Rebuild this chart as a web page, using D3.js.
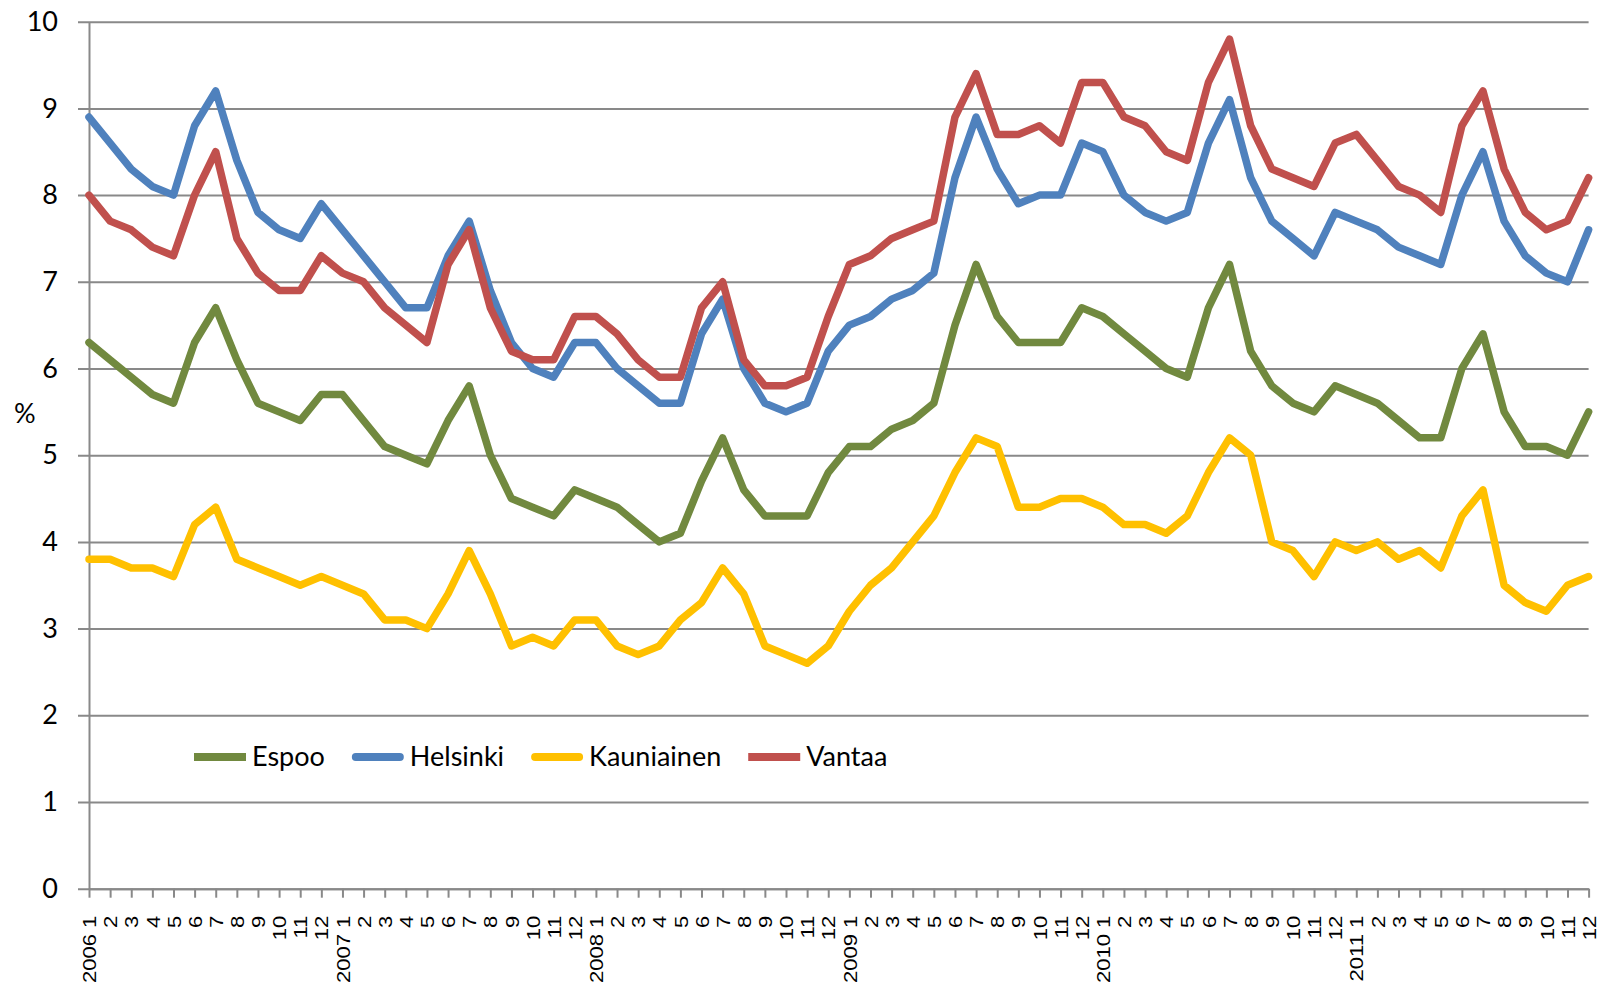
<!DOCTYPE html>
<html>
<head>
<meta charset="utf-8">
<script src="https://cdn.jsdelivr.net/npm/d3@7"></script>
<style>
  html, body { margin: 0; padding: 0; background: #fff; }
  svg { display: block; }
</style>
</head>
<body>
<svg id="chart" width="1603" height="990"></svg>
<script>
// ---------------- DATA ----------------
const categories = [
  "2006 1","2","3","4","5","6","7","8","9","10","11","12",
  "2007 1","2","3","4","5","6","7","8","9","10","11","12",
  "2008 1","2","3","4","5","6","7","8","9","10","11","12",
  "2009 1","2","3","4","5","6","7","8","9","10","11","12",
  "2010 1","2","3","4","5","6","7","8","9","10","11","12",
  "2011 1","2","3","4","5","6","7","8","9","10","11","12"
];

const espoo = [
  6.3, 6.1, 5.9, 5.7, 5.6, 6.3, 6.7, 6.1, 5.6, 5.5, 5.4, 5.7,
  5.7, 5.4, 5.1, 5.0, 4.9, 5.4, 5.8, 5.0, 4.5, 4.4, 4.3, 4.6,
  4.5, 4.4, 4.2, 4.0, 4.1, 4.7, 5.2, 4.6, 4.3, 4.3, 4.3, 4.8,
  5.1, 5.1, 5.3, 5.4, 5.6, 6.5, 7.2, 6.6, 6.3, 6.3, 6.3, 6.7,
  6.6, 6.4, 6.2, 6.0, 5.9, 6.7, 7.2, 6.2, 5.8, 5.6, 5.5, 5.8,
  5.7, 5.6, 5.4, 5.2, 5.2, 6.0, 6.4, 5.5, 5.1, 5.1, 5.0, 5.5
];

const helsinki = [
  8.9, 8.6, 8.3, 8.1, 8.0, 8.8, 9.2, 8.4, 7.8, 7.6, 7.5, 7.9,
  7.6, 7.3, 7.0, 6.7, 6.7, 7.3, 7.7, 6.9, 6.3, 6.0, 5.9, 6.3,
  6.3, 6.0, 5.8, 5.6, 5.6, 6.4, 6.8, 6.0, 5.6, 5.5, 5.6, 6.2,
  6.5, 6.6, 6.8, 6.9, 7.1, 8.2, 8.9, 8.3, 7.9, 8.0, 8.0, 8.6,
  8.5, 8.0, 7.8, 7.7, 7.8, 8.6, 9.1, 8.2, 7.7, 7.5, 7.3, 7.8,
  7.7, 7.6, 7.4, 7.3, 7.2, 8.0, 8.5, 7.7, 7.3, 7.1, 7.0, 7.6
];

const kauniainen = [
  3.8, 3.8, 3.7, 3.7, 3.6, 4.2, 4.4, 3.8, 3.7, 3.6, 3.5, 3.6,
  3.5, 3.4, 3.1, 3.1, 3.0, 3.4, 3.9, 3.4, 2.8, 2.9, 2.8, 3.1,
  3.1, 2.8, 2.7, 2.8, 3.1, 3.3, 3.7, 3.4, 2.8, 2.7, 2.6, 2.8,
  3.2, 3.5, 3.7, 4.0, 4.3, 4.8, 5.2, 5.1, 4.4, 4.4, 4.5, 4.5,
  4.4, 4.2, 4.2, 4.1, 4.3, 4.8, 5.2, 5.0, 4.0, 3.9, 3.6, 4.0,
  3.9, 4.0, 3.8, 3.9, 3.7, 4.3, 4.6, 3.5, 3.3, 3.2, 3.5, 3.6
];

const vantaa = [
  8.0, 7.7, 7.6, 7.4, 7.3, 8.0, 8.5, 7.5, 7.1, 6.9, 6.9, 7.3,
  7.1, 7.0, 6.7, 6.5, 6.3, 7.2, 7.6, 6.7, 6.2, 6.1, 6.1, 6.6,
  6.6, 6.4, 6.1, 5.9, 5.9, 6.7, 7.0, 6.1, 5.8, 5.8, 5.9, 6.6,
  7.2, 7.3, 7.5, 7.6, 7.7, 8.9, 9.4, 8.7, 8.7, 8.8, 8.6, 9.3,
  9.3, 8.9, 8.8, 8.5, 8.4, 9.3, 9.8, 8.8, 8.3, 8.2, 8.1, 8.6,
  8.7, 8.4, 8.1, 8.0, 7.8, 8.8, 9.2, 8.3, 7.8, 7.6, 7.7, 8.2
];

const seriesNames = ["Espoo", "Helsinki", "Kauniainen", "Vantaa"];
const seriesColors = ["#71893f", "#4f81bd", "#ffc000", "#c0504d"];
const yTicks = [0, 1, 2, 3, 4, 5, 6, 7, 8, 9, 10];
const yLabel = "%";

// ---------------- LAYOUT ----------------
const svg = d3.select("#chart");
const plotLeft = 89, plotRight = 1588.6, plotTop = 21.7, plotBottom = 888.7;

const x = d3.scalePoint()
  .domain(d3.range(categories.length))
  .range([plotLeft, plotRight]);

const y = d3.scaleLinear()
  .domain([0, 10])
  .range([plotBottom, plotTop]);

const gridColor = "#898989";

// gridlines (extend left of the axis as tick marks)
const grid = svg.append("g")
  .attr("transform", `translate(${plotLeft - 11},0)`)
  .call(d3.axisRight(y).tickValues(yTicks).tickSize(plotRight - plotLeft + 11).tickFormat(""));
grid.select(".domain").remove();
grid.selectAll("line").attr("stroke", gridColor).attr("stroke-width", 2);

// y labels
const yAxis = svg.append("g")
  .attr("transform", `translate(${plotLeft},0)`)
  .call(d3.axisLeft(y).tickValues(yTicks).tickSize(0).tickPadding(31).tickFormat(d3.format("d")));
yAxis.select(".domain").attr("stroke", gridColor).attr("stroke-width", 2);
yAxis.selectAll("text")
  .attr("font-family", "Lato, 'Open Sans', sans-serif")
  .attr("font-size", 27)
  .attr("fill", "#000");

// x axis
const xAxis = svg.append("g")
  .attr("transform", `translate(0,${plotBottom})`)
  .call(d3.axisBottom(x).tickSize(9).tickSizeOuter(0).tickPadding(0).tickFormat(i => categories[i]));
xAxis.select(".domain").attr("stroke", gridColor).attr("stroke-width", 2);
xAxis.selectAll("line").attr("stroke", gridColor).attr("stroke-width", 2);
xAxis.selectAll("text")
  .attr("font-family", "'Liberation Sans', Arial, sans-serif")
  .attr("font-size", 18.5)
  .attr("fill", "#000")
  .attr("text-anchor", "end")
  .attr("x", 0)
  .attr("y", 0)
  .attr("dy", "0.36em")
  .attr("transform", "rotate(-90) translate(-27,0) scale(1.19,1)");

// y axis title
svg.append("text")
  .attr("x", 14)
  .attr("y", 423)
  .attr("font-family", "Lato, 'Open Sans', sans-serif")
  .attr("font-size", 27)
  .attr("fill", "#000")
  .text(yLabel);

// lines
const allSeries = [espoo, helsinki, kauniainen, vantaa];
const line = d3.line()
  .x((d, i) => x(i))
  .y(d => y(d));

svg.append("g").selectAll("path")
  .data(allSeries)
  .join("path")
  .attr("d", line)
  .attr("fill", "none")
  .attr("stroke", (d, i) => seriesColors[i])
  .attr("stroke-width", 7.5)
  .attr("stroke-linejoin", "round")
  .attr("stroke-linecap", "round");

// legend
const legend = svg.append("g").attr("transform", "translate(194,757)");
let lx = 0;
seriesNames.forEach((name, i) => {
  const round = (i === 1 || i === 2);
  legend.append("line")
    .attr("x1", lx + (round ? 4 : 0))
    .attr("x2", lx + 52 - (round ? 4 : 0))
    .attr("y1", 0).attr("y2", 0)
    .attr("stroke", seriesColors[i])
    .attr("stroke-width", 8)
    .attr("stroke-linecap", round ? "round" : "butt");
  const t = legend.append("text")
    .attr("x", lx + 58)
    .attr("y", 9)
    .attr("font-family", "Lato, 'Open Sans', sans-serif")
    .attr("font-size", 27)
    .attr("fill", "#000")
    .text(name);
  lx += 58 + t.node().getComputedTextLength() + 27;
});
</script>
</body>
</html>
